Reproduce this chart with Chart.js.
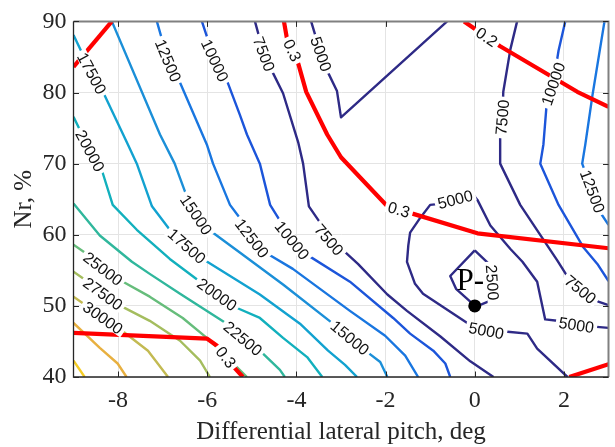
<!DOCTYPE html>
<html>
<head>
<meta charset="utf-8">
<script src="https://cdn.jsdelivr.net/npm/chart.js@4.4.1/dist/chart.umd.min.js"></script>
<style>
html, body { margin: 0; padding: 0; background: #fff; }
</style>
</head>
<body>
<canvas id="chart" width="615" height="447"></canvas>
<script>
// axis ticks
var xTicks = [-8, -6, -4, -2, 0, 2];
var yTicks = [40, 50, 60, 70, 80, 90];

// contour lines, [pitch deg, Nr %]
var c35000 = [[-9,42.3],[-8.75,40]];
var c32500 = [[-9,47.6],[-8.41,44.1],[-8.01,41.9],[-7.81,40]];
var c30000 = [[-9,51.3],[-8.75,50.2],[-8.34,48.3],[-7.91,46.5],[-7.33,43.7],[-6.88,40]];
var c27500 = [[-9,54.8],[-8.75,53.7],[-8.34,51.7],[-7.91,49.9],[-7.29,47.9],[-6.61,45.1],[-6.16,42.3],[-5.94,40]];
var c25000 = [[-9,58.6],[-8.70,57.3],[-8.34,55.2],[-7.89,53.4],[-7.29,51.3],[-6.55,48.3],[-6.01,45.5],[-5.56,42.8],[-5.11,40]];
var c22500 = [[-9,64.4],[-8.41,59.9],[-7.69,56.2],[-7.29,54.5],[-6.61,51.7],[-5.56,47.5],[-5.20,45.4],[-4.75,43.3],[-4.37,41.0],[-4.26,40]];
var c20000 = [[-9,76.6],[-8.63,71.8],[-8.36,69.0],[-8.12,64.2],[-7.58,60.7],[-6.84,56.6],[-6.16,53.4],[-5.78,51.6],[-5.33,49.7],[-4.82,48.3],[-4.30,45.5],[-3.76,42.8],[-3.42,40]];
var c17500 = [[-9,88.1],[-8.59,82.7],[-8.34,80.1],[-7.78,72.7],[-7.58,70.0],[-7.24,64.0],[-6.84,60.7],[-6.46,58.4],[-6.10,56.6],[-4.82,51.6],[-3.92,47.5],[-3.29,43.7],[-2.91,41.7],[-2.64,40]];
var c15000 = [[-8.14,90],[-7.06,74.1],[-6.73,70.0],[-6.46,65.4],[-6.25,62.8],[-5.94,60.6],[-5.27,57.5],[-4.30,53.0],[-3.18,47.5],[-2.80,45.5],[-2.41,43.5],[-2.12,42.1],[-1.96,40]];
var c12500a = [[-7.13,90],[-6.88,84.5],[-6.66,82.1],[-6.01,72.7],[-5.87,70.0],[-5.49,64.2],[-5.24,62.1],[-5.00,59.5],[-4.64,57.3],[-4.08,55.2],[-2.80,49.3],[-2.01,45.8],[-1.56,43.0],[-1.27,40]];
var c12500b = [[2.91,90],[2.64,79.6],[2.48,72.7],[2.41,70.0],[2.64,66.1],[2.82,63.1],[3,61.4]];
var c10000a = [[-6.12,90],[-5.83,84.5],[-5.56,81.7],[-5.27,76.9],[-5.11,74.1],[-4.82,70.0],[-4.59,64.2],[-4.37,62.0],[-4.10,59.2],[-3.74,57.1],[-2.80,53.4],[-1.83,48.3],[-1.45,46.1],[-0.93,43.7],[-0.66,41.9],[-0.55,40]];
var c10000b = [[2.03,90],[1.88,85.9],[1.76,81.2],[1.63,79.7],[1.54,72.7],[1.47,70.0],[1.88,64.2],[2.44,58.2],[2.75,55.9],[3,53.5]];
var c7500a = [[-4.93,90],[-4.73,85.4],[-4.53,82.8],[-4.30,79.9],[-3.96,73.0],[-3.85,70.0],[-3.72,64.0],[-3.47,61.7],[-3.27,59.3],[-2.95,57.8],[-2.62,55.9],[-1.96,51.6],[-1.52,49.3],[-0.77,45.7],[-0.10,42.2],[0.42,40]];
var c7500b = [[0.95,90],[0.80,86.1],[0.64,80.1],[0.62,76.5],[0.57,74.1],[0.57,70.0],[1.02,64.2],[1.85,56.4],[2.08,54.1],[2.37,52.3],[2.77,50.6],[3,50.1]];
var c5000a = [[-3.67,90],[-3.45,85.4],[-3.29,82.8],[-3.09,80.2],[-3.00,76.5],[-0.62,90]];
var c5000b = [[3,46.9],[2.28,47.3],[1.85,47.9],[1.58,48.1],[1.40,53.4],[1.07,56.2],[0.80,58.0],[0.35,61.3],[0.06,64.9],[-0.03,65.6],[-0.84,64.3],[-1.00,64.2],[-1.22,62.4],[-1.45,60.3],[-1.49,58.5],[-1.52,56.2],[-1.34,53.1],[-1.16,51.7],[-0.10,47.3],[0.26,46.5],[0.68,46.4],[1.18,46.1],[1.40,44.0],[2.08,40]];
var c2500 = [[0,57.8],[-0.55,54.2],[-0.42,52.4],[-0.10,50.6],[0.03,49.9],[0.42,50.9],[0.37,55.6],[0,57.8]];

// red contours of the second quantity
var red1 = [[-9,83.6],[-8.14,90]];
var red2 = [[-4.28,90],[-4.21,87.5],[-3.96,84.1],[-3.78,80.1],[-3.31,74.1],[-3.00,70.9],[-1.96,64.0],[-1.36,62.9],[0.06,60.2],[3,58.1]];
var red3 = [[-0.24,90],[0.57,86.5],[2.30,80.1],[3,78.0]];
var red4 = [[-9,46.2],[-6.01,45.4],[-5.78,44.4],[-5.45,41.7],[-5.20,40]];
var red5 = [[2.12,40],[3,41.8]];

// inline contour labels: text, x, y
var contourText = [
  ['17500',-8.59,82.7], ['17500',-6.46,58.4],
  ['15000',-6.25,62.8], ['15000',-2.80,45.5],
  ['12500',-6.88,84.5], ['12500',-5.00,59.5], ['12500',2.64,66.1],
  ['10000',-5.83,84.5], ['10000',-4.10,59.2], ['10000',1.76,81.2],
  ['7500',-4.73,85.4], ['7500',-3.27,59.3], ['7500',0.62,76.5], ['7500',2.37,52.3],
  ['5000',-3.45,85.4], ['5000',-0.44,65.0], ['5000',0.26,46.5], ['5000',2.28,47.3],
  ['2500',0.39,53.3],
  ['20000',-8.63,71.8], ['20000',-5.78,51.6],
  ['22500',-5.20,45.4],
  ['25000',-8.34,55.2], ['27500',-8.34,51.7], ['30000',-8.34,48.3],
  ['0.3',-4.10,85.9], ['0.3',-1.70,63.5], ['0.3',-5.58,42.8],
  ['0.2',0.28,87.9]
];

// design point
var pPoint = [0, 50];
var pText = ['P-', -0.10, 53.4];

var lines = [
  ['35000', c35000], ['32500', c32500], ['30000', c30000], ['27500', c27500],
  ['25000', c25000], ['22500', c22500], ['20000', c20000], ['17500', c17500],
  ['15000', c15000], ['12500', c12500a], ['12500', c12500b],
  ['10000', c10000a], ['10000', c10000b], ['7500', c7500a], ['7500', c7500b],
  ['5000', c5000a], ['5000', c5000b], ['2500', c2500]
];
var redLines = [['0.3', red1], ['0.3', red2], ['0.2', red3], ['0.3', red4], ['0.3', red5]];

var lineColors = {
  '2500': '#2e2a86', '5000': '#2e2a86', '7500': '#2e2a86',
  '10000': '#1c55da', '12500': '#1976e0', '15000': '#1b8fd8', '17500': '#12a2d0',
  '20000': '#12b0bd', '22500': '#30b79c', '25000': '#66bd7b', '27500': '#a4bd5e',
  '30000': '#c3ba52', '32500': '#e8b040', '35000': '#f5cd25'
};

function pts(arr) { return arr.map(function (p) { return {x: p[0], y: p[1]}; }); }

var datasets = [];
datasets.push({
  data: [{x: pPoint[0], y: pPoint[1]}], showLine: false,
  pointRadius: 6.5, pointBackgroundColor: '#000', pointBorderWidth: 0
});
redLines.forEach(function (l) {
  datasets.push({ level: l[0], data: pts(l[1]), showLine: true, borderColor: '#ff0000',
    borderWidth: 4.2, pointRadius: 0, borderJoinStyle: 'round' });
});
lines.forEach(function (l) {
  datasets.push({ level: l[0], data: pts(l[1]), showLine: true, borderColor: lineColors[l[0]],
    borderWidth: 2.4, pointRadius: 0, borderJoinStyle: 'round' });
});

var labelPlugin = {
  id: 'contourLabels',
  afterDatasetsDraw: function (chart) {
    var ctx = chart.ctx, xs = chart.scales.x, ys = chart.scales.y;
    ctx.save();
    ctx.font = '16px "Liberation Sans", Arial, sans-serif';
    ctx.textAlign = 'center';
    ctx.textBaseline = 'middle';
    contourText.forEach(function (l) {
      var px = xs.getPixelForValue(l[1]), py = ys.getPixelForValue(l[2]);
      var segs = [];
      chart.data.datasets.forEach(function (ds) {
        if (ds.level !== l[0]) return;
        for (var i = 0; i < ds.data.length - 1; i++) {
          var ax = xs.getPixelForValue(ds.data[i].x), ay = ys.getPixelForValue(ds.data[i].y);
          var bx = xs.getPixelForValue(ds.data[i + 1].x), by = ys.getPixelForValue(ds.data[i + 1].y);
          var dx = bx - ax, dy = by - ay, len = Math.sqrt(dx * dx + dy * dy);
          if (len === 0) continue;
          var t = Math.max(0, Math.min(1, ((px - ax) * dx + (py - ay) * dy) / (len * len)));
          var qx = ax + t * dx, qy = ay + t * dy;
          segs.push({d: Math.hypot(px - qx, py - qy), x: qx, y: qy, ux: dx / len, uy: dy / len});
        }
      });
      segs.sort(function (a, b) { return a.d - b.d; });
      var best = segs[0], sx = 0, sy = 0;
      segs.forEach(function (s) {
        if (s.d < best.d + 1.5) {
          // orient all to the same sense before summing
          if (sx * s.ux + sy * s.uy < 0) { sx -= s.ux; sy -= s.uy; } else { sx += s.ux; sy += s.uy; }
        }
      });
      var a = Math.atan2(sy, sx);
      if (a > Math.PI / 2 + 1e-6) a -= Math.PI;
      else if (a < -Math.PI / 2) a += Math.PI;
      var w = ctx.measureText(l[0]).width;
      ctx.save();
      ctx.translate(best.x, best.y);
      ctx.rotate(a);
      ctx.fillStyle = '#fff';
      ctx.fillRect(-w / 2 - 3, -6, w + 6, 12);
      ctx.fillStyle = '#111';
      ctx.fillText(l[0], 0, 1);
      ctx.restore();
    });
    // P- text
    ctx.font = '31px "Liberation Serif", "Times New Roman", serif';
    ctx.fillStyle = '#000';
    ctx.fillText(pText[0], xs.getPixelForValue(pText[1]), ys.getPixelForValue(pText[2]));
    ctx.restore();
  }
};

var framePlugin = {
  id: 'frame',
  afterDraw: function (chart) {
    var ctx = chart.ctx, a = chart.chartArea, xs = chart.scales.x, ys = chart.scales.y;
    ctx.save();
    ctx.lineWidth = 2;
    ctx.strokeStyle = '#808080';
    ctx.beginPath();
    ctx.moveTo(a.left, a.top); ctx.lineTo(a.right, a.top); ctx.lineTo(a.right, a.bottom);
    ctx.stroke();
    ctx.strokeStyle = '#262626';
    ctx.lineWidth = 1.3;
    ctx.beginPath();
    ctx.moveTo(a.left, a.top); ctx.lineTo(a.left, a.bottom); ctx.lineTo(a.right, a.bottom);
    ctx.stroke();
    ctx.lineWidth = 1;
    ctx.beginPath();
    xTicks.forEach(function (v) {
      var x = Math.round(xs.getPixelForValue(v)) + 0.5;
      ctx.moveTo(x, a.bottom); ctx.lineTo(x, a.bottom - 5.5);
      ctx.moveTo(x, a.top); ctx.lineTo(x, a.top + 5.5);
    });
    yTicks.forEach(function (v) {
      var y = Math.round(ys.getPixelForValue(v)) + 0.5;
      ctx.moveTo(a.left, y); ctx.lineTo(a.left + 5.5, y);
      ctx.moveTo(a.right, y); ctx.lineTo(a.right - 5.5, y);
    });
    ctx.stroke();
    ctx.restore();
  }
};

var serif = '"Liberation Serif", "Times New Roman", serif';

new Chart(document.getElementById('chart').getContext('2d'), {
  type: 'scatter',
  data: { datasets: datasets },
  plugins: [labelPlugin, framePlugin],
  options: {
    responsive: false,
    animation: false,
    events: [],
    layout: { padding: { top: 15, right: 6.5, left: 0, bottom: 0 } },
    plugins: { legend: { display: false }, tooltip: { enabled: false } },
    scales: {
      x: {
        type: 'linear', min: -9, max: 3,
        afterBuildTicks: function (s) { s.ticks = xTicks.map(function (v) { return {value: v}; }); },
        afterFit: function (s) { s.height = 70; },
        grid: { color: '#e4e4e4', lineWidth: 1, drawTicks: false },
        border: { display: false },
        ticks: { padding: 9, color: '#262626', font: { family: serif, size: 24 },
          callback: function (v) { return String(v); } },
        title: { display: true, text: 'Differential lateral pitch, deg', color: '#262626',
          font: { family: serif, size: 25 }, padding: { top: 0, bottom: 0 } }
      },
      y: {
        type: 'linear', min: 40, max: 90,
        afterBuildTicks: function (s) { s.ticks = yTicks.map(function (v) { return {value: v}; }); },
        afterFit: function (s) { s.width = 73.5; },
        grid: { color: '#e4e4e4', lineWidth: 1, drawTicks: false },
        border: { display: false },
        ticks: { padding: 7, color: '#262626', font: { family: serif, size: 24 },
          callback: function (v) { return String(v); } },
        title: { display: true, text: 'Nr, %', color: '#262626',
          font: { family: serif, size: 25 }, padding: { top: 9, bottom: 0 } }
      }
    }
  }
});
</script>
</body>
</html>
